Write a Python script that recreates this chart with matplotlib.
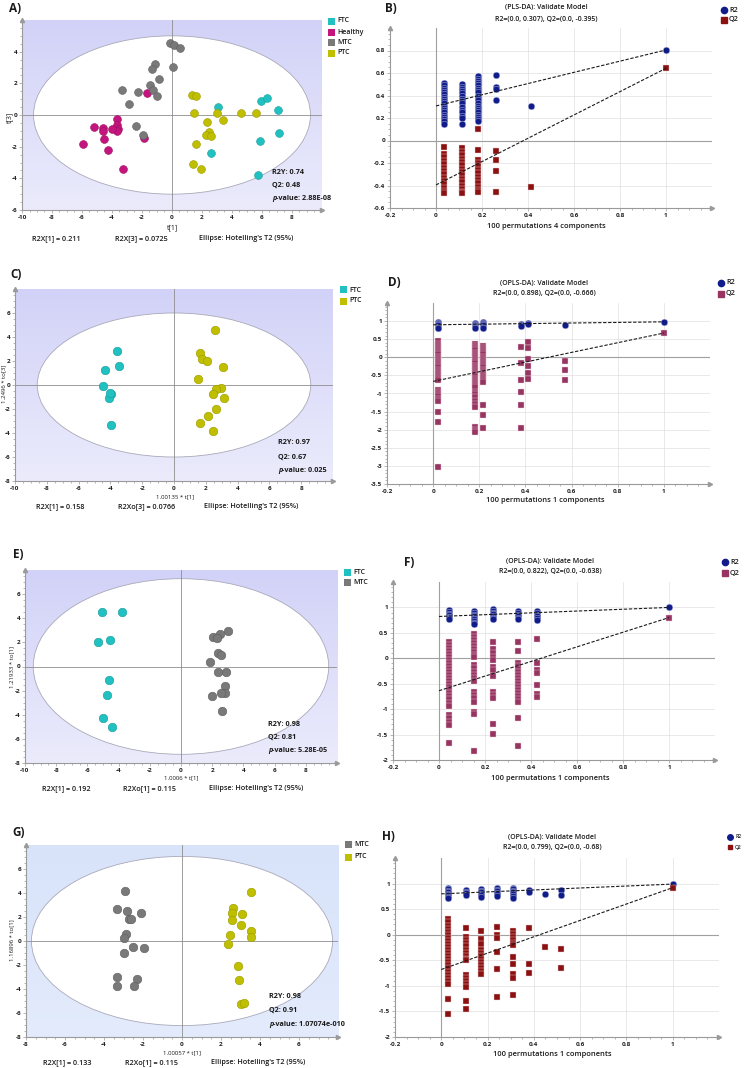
import numpy as np
import matplotlib
matplotlib.use('Agg')
import matplotlib.pyplot as plt
from matplotlib.patches import Ellipse, Rectangle
from matplotlib.lines import Line2D
from matplotlib.colors import LinearSegmentedColormap
from matplotlib.ticker import MultipleLocator, FuncFormatter

plt.rcParams['font.family'] = ['Open Sans', 'DejaVu Sans']

# ---------------- DATA ----------------
# Panel A (PLS-DA scores, t[1] vs t[3])
A_FTC_x = [3.08, 5.92, 6.32, 7.07, 7.14, 5.88, 2.59, 5.74]
A_FTC_y = [0.53, 0.91, 1.08, 0.32, -1.16, -1.65, -2.43, -3.78]
A_Healthy_x = [-1.69, -3.64, -3.64, -3.57, -3.64, -4.01, -4.61, -5.23, -4.61, -4.55, -5.96, -4.28, -3.24, -1.84]
A_Healthy_y = [1.37, -0.25, -0.61, -0.89, -0.99, -0.89, -0.82, -0.78, -1.04, -1.50, -1.86, -2.20, -3.42, -1.44]
A_MTC_x = [-0.16, 0.13, 0.55, 0.09, -1.11, -1.35, -0.89, -1.49, -1.24, -1.00, -2.26, -3.35, -2.84, -2.42, -1.91]
A_MTC_y = [4.57, 4.44, 4.23, 3.02, 3.19, 2.92, 2.30, 1.88, 1.59, 1.20, 1.48, 1.61, 0.72, -0.72, -1.27]
A_PTC_x = [1.35, 1.57, 1.49, 3.02, 3.37, 4.57, 5.61, 2.35, 2.46, 2.28, 2.62, 1.57, 1.42, 1.95]
A_PTC_y = [1.25, 1.18, 0.11, 0.13, -0.32, 0.15, 0.13, -0.44, -1.10, -1.25, -1.33, -1.86, -3.07, -3.42]

# Panel C (OPLS-DA FTC vs PTC)
C_FTC_x = [-3.59, -3.47, -4.36, -4.49, -3.99, -4.11, -3.99, -4.05]
C_FTC_y = [2.87, 1.62, 1.26, -0.10, -0.76, -1.12, -3.34, -0.70]
C_PTC_x = [2.55, 1.65, 1.73, 2.05, 3.07, 1.50, 2.97, 2.67, 2.46, 3.17, 2.67, 2.15, 1.65, 2.44]
C_PTC_y = [4.62, 2.68, 2.18, 2.04, 1.54, 0.51, -0.24, -0.35, -0.73, -1.12, -1.98, -2.56, -3.15, -3.84]

# Panel E (OPLS-DA FTC vs MTC)
E_FTC_x = [-5.05, -3.81, -5.30, -4.52, -4.60, -4.77, -4.99, -4.41]
E_FTC_y = [4.55, 4.52, 2.02, 2.16, -1.10, -2.35, -4.24, -5.00]
E_MTC_x = [3.00, 2.47, 2.05, 2.30, 2.39, 2.54, 1.85, 2.36, 2.90, 2.81, 2.81, 2.58, 2.00, 2.62]
E_MTC_y = [2.94, 2.71, 2.44, 2.38, 1.13, 0.96, 0.35, -0.49, -0.46, -1.60, -2.16, -2.21, -2.44, -3.67]

# Panel G (OPLS-DA MTC vs PTC)
G_MTC_x = [-2.91, -3.31, -2.81, -2.72, -2.59, -2.11, -2.85, -2.98, -2.50, -1.94, -2.96, -3.31, -3.32, -2.31, -2.45]
G_MTC_y = [4.15, 2.70, 2.48, 1.87, 1.82, 2.31, 0.59, 0.23, -0.52, -0.60, -1.04, -3.04, -3.76, -3.15, -3.73]
G_PTC_x = [3.56, 2.62, 2.57, 3.08, 2.55, 3.03, 3.52, 3.52, 2.45, 2.38, 2.89, 2.93, 3.00, 3.17]
G_PTC_y = [4.06, 2.76, 2.31, 2.26, 1.76, 1.31, 0.87, 0.37, 0.54, -0.24, -2.12, -3.23, -5.25, -5.14]

# Panel B (PLS-DA permutations)
B_perm_x = [0.035, 0.112, 0.184, 0.263, 0.411]
B_R2 = [[0.51, 0.49, 0.47, 0.45, 0.43, 0.41, 0.39, 0.37, 0.35, 0.33, 0.31, 0.29, 0.27, 0.25, 0.23, 0.21, 0.19, 0.17, 0.15],
        [0.50, 0.48, 0.46, 0.44, 0.42, 0.40, 0.37, 0.35, 0.33, 0.30, 0.27, 0.25, 0.22, 0.20, 0.15],
        [0.57, 0.55, 0.53, 0.51, 0.49, 0.47, 0.45, 0.43, 0.40, 0.38, 0.36, 0.33, 0.31, 0.29, 0.27, 0.25, 0.23, 0.21, 0.19, 0.17],
        [0.585, 0.475, 0.455, 0.358],
        [0.31]]
B_Q2 = [[-0.06, -0.12, -0.15, -0.18, -0.21, -0.24, -0.27, -0.30, -0.33, -0.36, -0.39, -0.42, -0.45, -0.47],
        [-0.07, -0.10, -0.13, -0.16, -0.19, -0.22, -0.25, -0.28, -0.31, -0.34, -0.37, -0.40, -0.43, -0.46, -0.47],
        [0.10, -0.08, -0.17, -0.20, -0.23, -0.26, -0.29, -0.32, -0.35, -0.38, -0.41, -0.44, -0.46],
        [-0.09, -0.17, -0.27, -0.46],
        [-0.414]]
B_orig = (0.805, 0.642)
B_intercepts = (0.307, -0.395)

# Panel D (OPLS-DA FTC vs PTC permutations)
D_perm_x = [0.022, 0.183, 0.217, 0.379, 0.412, 0.573]
D_R2 = [[0.97, 0.94, 0.91, 0.88, 0.85, 0.82, 0.80],
        [0.96, 0.93, 0.90, 0.87, 0.84, 0.81],
        [0.97, 0.94, 0.91, 0.88, 0.85, 0.81],
        [0.93, 0.89, 0.86],
        [0.95, 0.92],
        [0.90]]
D_Q2 = [[0.44, 0.38, 0.32, 0.26, 0.20, 0.14, 0.08, 0.02, -0.04, -0.10, -0.16, -0.22, -0.28, -0.34, -0.40, -0.46, -0.52, -0.58, -0.63,
         -0.90, -0.96, -1.02, -1.08, -1.14, -1.20, -1.50, -1.78, -3.02],
        [0.37, 0.31, 0.25, 0.19, 0.13, 0.07, 0.01, -0.05, -0.11, -0.17, -0.23, -0.29, -0.35, -0.41, -0.47, -0.53, -0.59, -0.65, -0.71,
         -0.77, -0.83, -0.95, -1.01, -1.10, -1.20, -1.30, -1.38, -1.92, -2.00, -2.07],
        [0.32, 0.26, 0.20, 0.14, 0.08, 0.02, -0.04, -0.10, -0.16, -0.22, -0.28, -0.34, -0.40, -0.46, -0.52, -0.58, -0.64, -0.69,
         -1.33, -1.59, -1.94],
        [0.28, -0.16, -0.64, -0.97, -1.33, -1.94],
        [0.43, 0.26, -0.05, -0.25, -0.43, -0.59],
        [-0.10, -0.34, -0.62]]
D_orig = (0.98, 0.67)
D_intercepts = (0.898, -0.666)

# Panel F (OPLS-DA FTC vs MTC permutations)
F_perm_x = [0.043, 0.154, 0.236, 0.342, 0.424]
F_R2 = [[0.94, 0.91, 0.88, 0.85, 0.82, 0.79, 0.77],
        [0.92, 0.89, 0.86, 0.83, 0.80, 0.77, 0.73, 0.70, 0.67],
        [0.96, 0.93, 0.90, 0.87, 0.84, 0.80, 0.77],
        [0.92, 0.89, 0.86, 0.83, 0.80, 0.77],
        [0.92, 0.89, 0.86, 0.83, 0.79, 0.75]]
F_Q2 = [[0.33, 0.27, 0.21, 0.15, 0.09, 0.03, -0.03, -0.09, -0.15, -0.21, -0.27, -0.33, -0.39, -0.45, -0.51, -0.57, -0.63, -0.69,
         -0.75, -0.81, -0.87, -0.93, -1.12, -1.18, -1.25, -1.32, -1.66],
        [0.48, 0.42, 0.36, 0.30, 0.24, 0.18, 0.12, 0.06, 0.02, -0.14, -0.20, -0.26, -0.32, -0.38, -0.44, -0.67, -0.73, -0.79, -0.86,
         -1.05, -1.10, -1.82],
        [0.33, 0.18, 0.10, 0.03, -0.03, -0.18, -0.24, -0.34, -0.67, -0.73, -0.79, -1.30, -1.49],
        [0.32, 0.15, -0.09, -0.15, -0.21, -0.27, -0.33, -0.39, -0.45, -0.51, -0.57, -0.63, -0.69, -0.75, -0.81, -0.86, -1.17, -1.73],
        [0.37, -0.10, -0.24, -0.29, -0.53, -0.71, -0.76]]
F_orig = (1.0, 0.80)
F_intercepts = (0.822, -0.638)

# Panel H (OPLS-DA MTC vs PTC permutations)
H_perm_x = [0.031, 0.106, 0.170, 0.242, 0.309, 0.380, 0.446, 0.518]
H_R2 = [[0.92, 0.89, 0.86, 0.83, 0.80, 0.77, 0.74, 0.72],
        [0.87, 0.84, 0.81, 0.78],
        [0.89, 0.86, 0.83, 0.80, 0.77, 0.73],
        [0.91, 0.88, 0.85, 0.82, 0.79, 0.76],
        [0.92, 0.89, 0.86, 0.83, 0.80, 0.76, 0.72],
        [0.87, 0.84],
        [0.80],
        [0.87, 0.78]]
H_Q2 = [[0.30, 0.24, 0.18, 0.12, 0.06, 0.00, -0.06, -0.12, -0.18, -0.24, -0.30, -0.36, -0.42, -0.48, -0.54, -0.60, -0.66, -0.72,
         -0.78, -0.84, -0.90, -0.96, -1.25, -1.55],
        [0.13, -0.05, -0.11, -0.17, -0.23, -0.29, -0.35, -0.41, -0.47, -0.50, -0.79, -0.85, -0.91, -0.97, -1.03, -1.29, -1.45],
        [0.07, -0.08, -0.19, -0.29, -0.35, -0.41, -0.47, -0.53, -0.59, -0.65, -0.71, -0.76],
        [0.15, 0.00, -0.06, -0.34, -0.68, -1.21],
        [0.07, 0.01, -0.05, -0.11, -0.17, -0.21, -0.43, -0.58, -0.76, -0.85, -1.18],
        [0.14, -0.58, -0.74],
        [-0.24],
        [-0.27, -0.65]]
H_orig = (0.99, 0.92)
H_intercepts = (0.799, -0.68)

# ---------------- STYLE ----------------
COL = {'FTC': '#22c1c1', 'Healthy': '#c3157d', 'MTC': '#797979', 'PTC': '#bfbf00'}
EDGE = {'FTC': '#1a9c9c', 'Healthy': '#9c1062', 'MTC': '#5e5e5e', 'PTC': '#9a9a00'}
R2_COL = '#0f1c8a'
AXC = '#9a9a9a'

W, H = 744, 1068
fig = plt.figure(figsize=(W / 100, H / 100), dpi=100)


def px_axes(x0, y0, x1, y1):
    return fig.add_axes([x0 / W, 1 - y1 / H, (x1 - x0) / W, (y1 - y0) / H])


def ftext(x, y, s, **kw):
    kw.setdefault('va', 'center')
    kw.setdefault('color', '#1a1a1a')
    fig.text(x / W, 1 - y / H, s, **kw)


fmt = FuncFormatter(lambda v, p: '%g' % round(v, 3))


def style_axes(ax, xt, yt, xminor, yminor):
    for s in ('top', 'right'):
        ax.spines[s].set_visible(False)
    for s in ('left', 'bottom'):
        ax.spines[s].set_color(AXC)
        ax.spines[s].set_linewidth(0.8)
    ax.set_xticks(xt)
    ax.set_yticks(yt)
    ax.xaxis.set_major_formatter(fmt)
    ax.yaxis.set_major_formatter(fmt)
    ax.xaxis.set_minor_locator(MultipleLocator(xminor))
    ax.yaxis.set_minor_locator(MultipleLocator(yminor))
    ax.tick_params(which='both', labelsize=4.6, length=2, width=0.5, color=AXC,
                   labelcolor='#222222', pad=1.5)
    ax.tick_params(which='minor', length=1.2)
    for lab in ax.get_xticklabels() + ax.get_yticklabels():
        lab.set_fontweight('bold')
    ax.plot([0], [1.0], marker='^', ms=3, color=AXC, transform=ax.transAxes, clip_on=False, zorder=6)
    ax.plot([1.0], [0], marker='>', ms=3, color=AXC, transform=ax.transAxes, clip_on=False, zorder=6)


def score_panel(box, xlim, ylim, xt, yt, ell, groups, top_c, bot_c, size=32):
    ax = px_axes(*box)
    cmap = LinearSegmentedColormap.from_list('bg', [top_c, bot_c])
    ax.imshow(np.linspace(0, 1, 100).reshape(-1, 1), extent=(xlim[0], xlim[1], ylim[0], ylim[1]),
              cmap=cmap, aspect='auto', origin='upper', zorder=0, interpolation='bilinear')
    ax.add_patch(Ellipse((0, 0), 2 * ell[0], 2 * ell[1], facecolor='white', edgecolor='#a9a9b9',
                         lw=0.6, zorder=1))
    ax.axhline(0, color='#8e8e8e', lw=0.6, zorder=2)
    ax.axvline(0, color='#8e8e8e', lw=0.6, zorder=2)
    for name, xs, ys in groups:
        ax.scatter(xs, ys, s=size, color=COL[name], edgecolors=EDGE[name], linewidths=0.4, zorder=3)
    ax.set_xlim(xlim)
    ax.set_ylim(ylim)
    style_axes(ax, xt, yt, 0.5, 0.5)
    return ax


def score_legend(x, ys, names):
    for y, n in zip(ys, names):
        fig.add_artist(Rectangle((x / W, 1 - (y + 3.5) / H), 7 / W, 7 / H, transform=fig.transFigure,
                                 facecolor=COL[n], edgecolor='none'))
        ftext(x + 9, y, n, fontsize=5, fontweight='semibold')


def score_texts(sx, sy, r2y, q2, pval, caps, cap_x, cap_y):
    ftext(sx, sy[0], 'R2Y: ' + r2y, fontsize=5.2, fontweight='bold')
    ftext(sx, sy[1], 'Q2: ' + q2, fontsize=5.2, fontweight='bold')
    ftext(sx, sy[2], 'p', fontsize=5.2, fontweight='bold', fontstyle='italic')
    ftext(sx + 4.3, sy[2], '-value: ' + pval, fontsize=5.2, fontweight='bold')
    for c, x in zip(caps, cap_x):
        ftext(x, cap_y, c, fontsize=5.2, fontweight='semibold')


def perm_panel(box, ylim, yt, yminor, px, r2cols, q2cols, orig, ints, qcol):
    ax = px_axes(*box)
    ax.set_xlim(-0.2, 1.2)
    ax.set_ylim(ylim)
    for gx in [0.2, 0.4, 0.6, 0.8, 1.0]:
        ax.axvline(gx, color='#e0e0e0', lw=0.5, zorder=0)
    for gy in yt:
        if gy != ylim[0]:
            ax.axhline(gy, color='#e0e0e0', lw=0.5, zorder=0)
    ax.axhline(0, color='#a0a0a0', lw=0.8, zorder=1)
    ax.axvline(0, color='#a0a0a0', lw=0.8, zorder=1)
    for x, col in zip(px, r2cols):
        ax.scatter([x] * len(col), col, s=23, marker='o', color=R2_COL, edgecolors='#c8cbe8',
                   linewidths=0.3, zorder=3)
    for x, col in zip(px, q2cols):
        ax.scatter([x] * len(col), col, s=19, marker='s', color=qcol, edgecolors='#ecd2d8',
                   linewidths=0.3, zorder=3)
    ax.scatter([1.0], [orig[0]], s=23, marker='o', color=R2_COL, edgecolors='#c8cbe8', linewidths=0.3, zorder=3)
    ax.scatter([1.0], [orig[1]], s=19, marker='s', color=qcol, edgecolors='#ecd2d8', linewidths=0.3, zorder=3)
    ax.plot([0, 1], [ints[0], orig[0]], color='#1a1a1a', lw=0.8, ls=(0, (3, 1.5)), zorder=4)
    ax.plot([0, 1], [ints[1], orig[1]], color='#1a1a1a', lw=0.8, ls=(0, (3, 1.5)), zorder=4)
    style_axes(ax, [-0.2, 0, 0.2, 0.4, 0.6, 0.8, 1.0], yt, 0.05, yminor)
    return ax


def perm_legend(x, y1, y2, qcol, fs=5.2, ms=4.5):
    fig.add_artist(Line2D([x / W], [1 - y1 / H], marker='o', ms=ms, color=R2_COL, ls='none',
                          transform=fig.transFigure))
    fig.add_artist(Line2D([x / W], [1 - y2 / H], marker='s', ms=ms * 0.85, color=qcol, ls='none',
                          transform=fig.transFigure))
    ftext(x + 5, y1, 'R2', fontsize=fs, fontweight='semibold')
    ftext(x + 5, y2, 'Q2', fontsize=fs, fontweight='semibold')


LAV_TOP, LAV_BOT = '#d2d2f8', '#ebebfc'

# ---------------- A ----------------
score_panel((22, 20, 322, 210), (-10, 10), (-6, 6), list(range(-10, 9, 2)), list(range(-6, 5, 2)),
            (9.23, 5.0),
            [('FTC', A_FTC_x, A_FTC_y), ('Healthy', A_Healthy_x, A_Healthy_y),
             ('MTC', A_MTC_x, A_MTC_y), ('PTC', A_PTC_x, A_PTC_y)], LAV_TOP, LAV_BOT, size=32)
ftext(172, 228, 't[1]', fontsize=5, ha='center')
ftext(10, 117, 't[3]', fontsize=5, ha='center', rotation=90)
score_legend(328, [21, 32, 42, 53], ['FTC', 'Healthy', 'MTC', 'PTC'])
score_texts(272, [172, 185, 198], '0.74', '0.48', '2.88E-08',
            ['R2X[1] = 0.211', 'R2X[3] = 0.0725', "Ellipse: Hotelling's T2 (95%)"], [32, 115, 199], 239)
ftext(9, 8, 'A)', fontsize=8.5, fontweight='bold')

# ---------------- B ----------------
perm_panel((390, 28, 712, 208), (-0.6, 1.0), [-0.6, -0.4, -0.2, 0, 0.2, 0.4, 0.6, 0.8], 0.05,
           B_perm_x, B_R2, B_Q2, B_orig, B_intercepts, '#8b1010')
ftext(546, 8, '(PLS-DA): Validate Model', fontsize=5, ha='center', fontweight='semibold')
ftext(546, 19, 'R2=(0.0, 0.307), Q2=(0.0, -0.395)', fontsize=5, ha='center', fontweight='semibold')
ftext(546, 226, '100 permutations 4 components', fontsize=5.4, ha='center', fontweight='semibold')
perm_legend(724, 10, 20, '#8b1010')
ftext(385, 8, 'B)', fontsize=8.5, fontweight='bold')

# ---------------- C ----------------
score_panel((15, 289, 333, 481), (-10, 10), (-8, 8), list(range(-10, 9, 2)), list(range(-8, 7, 2)),
            (8.6, 6.0), [('FTC', C_FTC_x, C_FTC_y), ('PTC', C_PTC_x, C_PTC_y)], LAV_TOP, LAV_BOT, size=38)
ftext(175, 497, '1.00135 * t[1]', fontsize=4.3, ha='center')
ftext(4, 384, '1.2496 * to[3]', fontsize=4.3, ha='center', rotation=90)
score_legend(340, [290, 301], ['FTC', 'PTC'])
score_texts(278, [443, 457, 470], '0.97', '0.67', '0.025',
            ['R2X[1] = 0.158', 'R2Xo[3] = 0.0766', "Ellipse: Hotelling's T2 (95%)"], [36, 118, 204], 507)
ftext(10, 275, 'C)', fontsize=8.5, fontweight='bold')

# ---------------- D ----------------
perm_panel((387, 303, 710, 484), (-3.5, 1.5), [-3.5, -3, -2.5, -2, -1.5, -1, -0.5, 0, 0.5, 1], 0.1,
           D_perm_x, D_R2, D_Q2, D_orig, D_intercepts, '#973462')
ftext(544, 284, '(OPLS-DA): Validate Model', fontsize=5, ha='center', fontweight='semibold')
ftext(544, 294, 'R2=(0.0, 0.898), Q2=(0.0, -0.666)', fontsize=5, ha='center', fontweight='semibold')
ftext(545, 501, '100 permutations 1 components', fontsize=5.4, ha='center', fontweight='semibold')
perm_legend(721, 283, 294, '#973462')
ftext(388, 282, 'D)', fontsize=8.5, fontweight='bold')

# ---------------- E ----------------
score_panel((25, 570, 337, 763), (-10, 10), (-8, 8), list(range(-10, 9, 2)), list(range(-8, 7, 2)),
            (9.47, 7.28), [('FTC', E_FTC_x, E_FTC_y), ('MTC', E_MTC_x, E_MTC_y)], LAV_TOP, LAV_BOT, size=38)
ftext(181, 778, '1.0006 * t[1]', fontsize=4.3, ha='center')
ftext(12, 667, '1.21933 * to[1]', fontsize=4.3, ha='center', rotation=90)
score_legend(344, [572, 582], ['FTC', 'MTC'])
score_texts(268, [724, 737, 750], '0.98', '0.81', '5.28E-05',
            ['R2X[1] = 0.192', 'R2Xo[1] = 0.115', "Ellipse: Hotelling's T2 (95%)"], [42, 123, 209], 789)
ftext(13, 555, 'E)', fontsize=8.5, fontweight='bold')

# ---------------- F ----------------
perm_panel((393, 582, 715, 760), (-2, 1.5), [-2, -1.5, -1, -0.5, 0, 0.5, 1], 0.1,
           F_perm_x, F_R2, F_Q2, F_orig, F_intercepts, '#973462')
ftext(550, 562, '(OPLS-DA): Validate Model', fontsize=5, ha='center', fontweight='semibold')
ftext(550, 572, 'R2=(0.0, 0.822), Q2=(0.0, -0.638)', fontsize=5, ha='center', fontweight='semibold')
ftext(550, 778, '100 permutations 1 components', fontsize=5.4, ha='center', fontweight='semibold')
perm_legend(725, 562, 573, '#973462')
ftext(404, 562, 'F)', fontsize=8.5, fontweight='bold')

# ---------------- G ----------------
score_panel((26, 845, 338, 1037), (-8, 8), (-8, 8), list(range(-8, 7, 2)), list(range(-8, 7, 2)),
            (7.72, 7.05), [('MTC', G_MTC_x, G_MTC_y), ('PTC', G_PTC_x, G_PTC_y)], '#d8e3fa', '#e3ebfc',
            size=38)
ftext(182, 1053, '1.00057 * t[1]', fontsize=4.3, ha='center')
ftext(12, 940, '1.16896 * to[1]', fontsize=4.3, ha='center', rotation=90)
score_legend(345, [844, 857], ['MTC', 'PTC'])
score_texts(269, [997, 1010, 1024], '0.98', '0.91', '1.07074e-010',
            ['R2X[1] = 0.133', 'R2Xo[1] = 0.115', "Ellipse: Hotelling's T2 (95%)"], [43, 125, 211], 1063)
ftext(12, 832, 'G)', fontsize=8.5, fontweight='bold')

# ---------------- H ----------------
perm_panel((395, 858, 719, 1037), (-2, 1.5), [-2, -1.5, -1, -0.5, 0, 0.5, 1], 0.1,
           H_perm_x, H_R2, H_Q2, H_orig, H_intercepts, '#8b1010')
ftext(552, 837, '(OPLS-DA): Validate Model', fontsize=5, ha='center', fontweight='semibold')
ftext(552, 848, 'R2=(0.0, 0.799), Q2=(0.0, -0.68)', fontsize=5, ha='center', fontweight='semibold')
ftext(552, 1054, '100 permutations 1 components', fontsize=5.4, ha='center', fontweight='semibold')
perm_legend(730, 837, 847, '#8b1010', fs=3.6, ms=4)
ftext(382, 837, 'H)', fontsize=8.5, fontweight='bold')

fig.savefig('out.png', dpi=100, facecolor='white')
